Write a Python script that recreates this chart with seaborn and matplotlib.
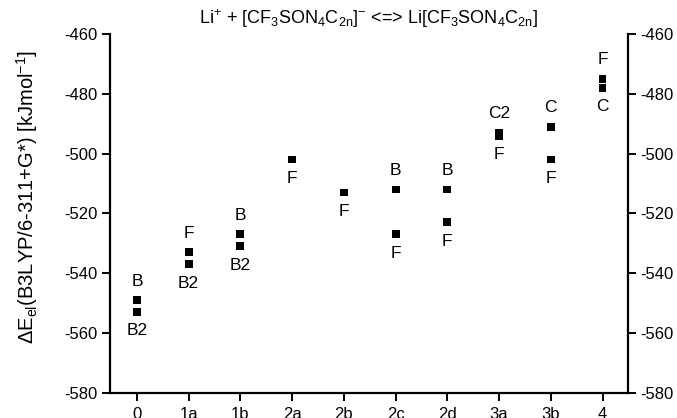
import pandas as pd
import matplotlib.pyplot as plt
import seaborn as sns

# conformers on x, two minima per conformer (where present)
categories = ['0', '1a', '1b', '2a', '2b', '2c', '2d', '3a', '3b', '4']
point_cat = ['0', '0', '1a', '1a', '1b', '1b', '2a', '2b', '2c', '2c', '2d', '2d', '3a', '3a', '3b', '3b', '4', '4']
point_energy = [-549, -553, -533, -537, -527, -531, -502, -513, -512, -527, -512, -523, -493, -494, -491, -502, -475, -478]
point_label = ['B', 'B2', 'F', 'B2', 'B', 'B2', 'F', 'F', 'B', 'F', 'B', 'F', 'C2', 'F', 'C', 'F', 'F', 'C']
label_side = ['up', 'down', 'up', 'down', 'up', 'down', 'down', 'down', 'up', 'down', 'up', 'down', 'up', 'down', 'up', 'down', 'up', 'down']

df = pd.DataFrame({'cat': point_cat, 'E': point_energy, 'lab': point_label, 'side': label_side})

sns.set_style('ticks')
plt.rcParams['font.family'] = ['Liberation Sans', 'DejaVu Sans']
plt.rcParams['mathtext.fontset'] = 'custom'
plt.rcParams['mathtext.rm'] = 'Liberation Sans'
plt.rcParams['mathtext.it'] = 'Liberation Sans'
plt.rcParams['axes.unicode_minus'] = False
plt.rcParams['text.color'] = 'black'
plt.rcParams['axes.labelcolor'] = 'black'
plt.rcParams['xtick.color'] = 'black'
plt.rcParams['ytick.color'] = 'black'
plt.rcParams['axes.edgecolor'] = 'black'

fig = plt.figure(figsize=(6.77, 4.18), dpi=100)
ax = fig.add_axes([0.1625, 0.06, 0.765, 0.859])

sns.scatterplot(data=df, x='cat', y='E', marker='s', s=32, color='black',
                edgecolor='none', ax=ax, legend=False)

xpos = {c: i for i, c in enumerate(categories)}
for _, r in df.iterrows():
    dy = 13.5 if r['side'] == 'up' else -13.5
    ax.annotate(r['lab'], (xpos[r['cat']], r['E']), xytext=(0, dy),
                textcoords='offset points', ha='center', va='center', fontsize=12.5)

ax.set_xlim(-0.52, 9.49)
ax.set_ylim(-580, -460)
ax.set_xticks(range(len(categories)))
ax.set_xticklabels(categories)
ax.set_yticks(range(-580, -459, 20))
ax.set_xlabel('')
ax.set_ylabel(r'$\Delta$E$_{\rm el}$(B3LYP/6-311+G*) [kJmol$^{-1}$]', fontsize=14.5)
ax.yaxis.set_label_coords(-0.135, 0.545)

ax.spines['top'].set_visible(False)
for s in ['left', 'right', 'bottom']:
    ax.spines[s].set_linewidth(1.6)
ax.tick_params(axis='both', which='both', direction='out', length=6, width=1.4,
               labelsize=12)
ax.tick_params(axis='y', pad=3, right=True, labelright=True)
ax.tick_params(axis='x', pad=4)

ax.set_title(r'Li$^{+}$ + [CF$_3$SON$_4$C$_{2n}$]$^{-}$ <=> Li[CF$_3$SON$_4$C$_{2n}$]',
             fontsize=13, pad=7)

fig.savefig('out.png', dpi=100)
